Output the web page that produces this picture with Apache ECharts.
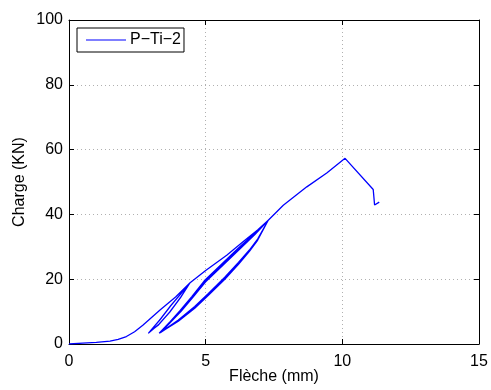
<!DOCTYPE html>
<html><head><meta charset="utf-8">
<script src="https://cdn.jsdelivr.net/npm/echarts@6/dist/echarts.min.js"></script>
<style>html,body{margin:0;padding:0;background:#fff}#c{width:491px;height:390px}</style>
</head><body><div id="c"></div>
<script>
// Data (Flèche mm, Charge kN)
var seriesName = 'P\u2212Ti\u22122';
var xTicks = [0, 5, 10, 15];
var yTicks = [0, 20, 40, 60, 80, 100];
var initialLoading = [[0,0],[0.5,0.25],[1.0,0.5],[1.5,0.9],[1.8,1.4],[2.1,2.3],[2.4,3.8],[2.7,5.8],[3.33,10.5],[3.9,14.5],[4.43,18.9]];
var loop1Unload = [[4.43,18.9],[4.1,14.6],[3.7,10.0],[3.3,6.2],[2.9,3.3]];
var loop1Reload = [[2.9,3.3],[3.3,7.2],[3.7,11.6],[4.1,15.6],[4.43,18.9]];
var loop1Unload2 = [[4.42,18.8],[4.08,14.3],[3.68,9.8],[3.28,6.0],[2.93,3.6]];
var loop1Reload2 = [[2.93,3.6],[3.32,7.4],[3.72,11.8],[4.12,15.8],[4.43,18.9]];
var loop1Unload3 = [[4.41,18.7],[4.06,14.1],[3.66,9.6],[3.26,5.8],[2.96,3.9]];
var loop1Reload3 = [[2.96,3.9],[3.34,7.6],[3.74,12.0],[4.14,16.0],[4.43,18.9]];
var midLoading = [[4.43,18.9],[5.0,22.7],[5.77,27.4],[6.4,31.8],[6.9,35.2],[7.29,38.2]];
var loop2Unload = [[7.29,38.2],[6.9,32.0],[6.6,28.6],[6.2,24.6],[5.7,20.0],[5.1,15.0],[4.6,11.0],[4.0,7.0],[3.3,3.3]];
var loop2Reload = [[3.3,3.3],[3.7,6.9],[4.06,10.3],[4.5,14.7],[4.95,19.5],[5.6,24.8],[6.2,29.6],[6.8,34.2],[7.29,38.2]];
var loop2Unload2 = [[7.28,38.0],[6.9,32.2],[6.6,28.8],[6.2,24.9],[5.7,20.3],[5.1,15.3],[4.6,11.3],[4.0,7.2],[3.34,3.5]];
var loop2Reload2 = [[3.34,3.5],[3.72,6.9],[4.08,10.2],[4.52,14.6],[4.97,19.3],[5.62,24.6],[6.22,29.4],[6.8,34.0],[7.29,38.2]];
var loop2Unload3 = [[7.27,37.9],[6.9,32.4],[6.6,29.0],[6.2,25.2],[5.7,20.6],[5.1,15.6],[4.6,11.6],[4.0,7.4],[3.38,3.8]];
var loop2Reload3 = [[3.38,3.8],[3.74,6.9],[4.1,10.1],[4.54,14.5],[4.99,19.1],[5.64,24.4],[6.24,29.2],[6.8,33.8],[7.29,38.2]];
var finalLoading = [[7.29,38.2],[7.84,42.8],[8.7,48.5],[9.43,52.8],[10.1,57.3],[11.13,47.7],[11.18,42.9],[11.35,43.8]];

var path = [].concat(initialLoading, loop1Unload, loop1Reload, loop1Unload2, loop1Reload2, loop1Unload3, loop1Reload3,
  midLoading, loop2Unload, loop2Reload, loop2Unload2, loop2Reload2, loop2Unload3, loop2Reload3, finalLoading);

var FONT = 'Liberation Sans';
var chart = echarts.init(document.getElementById('c'), null, {renderer: 'canvas'});
var gridLine = {show: true, lineStyle: {color: '#b0b0b0', type: [1, 3], width: 1}};
chart.setOption({
  animation: false,
  backgroundColor: '#fff',
  grid: {left: 69, right: 12, top: 20, bottom: 46, containLabel: false, outerBoundsMode: 'none'},
  legend: {
    left: 77, top: 28, orient: 'horizontal',
    data: [{name: seriesName, icon: 'path://M0,0L40,0L40,1.2L0,1.2Z'}],
    backgroundColor: '#fff', borderColor: '#000', borderWidth: 1, borderRadius: 0,
    padding: [4, 3, 4, 9], itemWidth: 40, itemHeight: 1.2, itemGap: 4,
    itemStyle: {color: '#0000ff'},
    textStyle: {fontFamily: FONT, fontSize: 16, color: '#000', padding: [0, 0, 0, -1]}
  },
  xAxis: [{
    type: 'value', min: xTicks[0], max: xTicks[xTicks.length - 1], interval: 5,
    name: 'Fl\u00e8che (mm)', nameLocation: 'middle', nameGap: 25, nameMoveOverlap: false,
    nameTextStyle: {fontFamily: FONT, fontSize: 16, color: '#000'},
    axisLine: {show: true, onZero: false, lineStyle: {color: '#000', width: 1}},
    axisTick: {show: true, inside: true, length: 5, lineStyle: {color: '#000'}},
    axisLabel: {fontFamily: FONT, fontSize: 16, color: '#000', margin: 10},
    splitLine: gridLine
  }, {
    type: 'value', position: 'top', min: xTicks[0], max: xTicks[xTicks.length - 1], interval: 5,
    axisLine: {show: true, onZero: false, lineStyle: {color: '#000', width: 1}},
    axisTick: {show: true, inside: true, length: 5, lineStyle: {color: '#000'}},
    axisLabel: {show: false}, splitLine: {show: false}
  }],
  yAxis: [{
    type: 'value', min: yTicks[0], max: yTicks[yTicks.length - 1], interval: 20,
    name: 'Charge (KN)', nameLocation: 'middle', nameGap: 41, nameMoveOverlap: false,
    nameTextStyle: {fontFamily: FONT, fontSize: 16, color: '#000'},
    axisLine: {show: true, onZero: false, lineStyle: {color: '#000', width: 1}},
    axisTick: {show: true, inside: true, length: 5, lineStyle: {color: '#000'}},
    axisLabel: {fontFamily: FONT, fontSize: 16, color: '#000', margin: 6, padding: [4, 0, 0, 0]},
    splitLine: gridLine
  }, {
    type: 'value', position: 'right', min: yTicks[0], max: yTicks[yTicks.length - 1], interval: 20,
    axisLine: {show: true, onZero: false, lineStyle: {color: '#000', width: 1}},
    axisTick: {show: true, inside: true, length: 5, lineStyle: {color: '#000'}},
    axisLabel: {show: false}, splitLine: {show: false}
  }],
  series: [{
    name: seriesName, type: 'line', data: path,
    xAxisIndex: 0, yAxisIndex: 0,
    symbol: 'none', showSymbol: false, smooth: false,
    lineStyle: {color: '#0000ff', width: 1.3}, itemStyle: {color: '#0000ff'}
  }]
});
</script></body></html>
